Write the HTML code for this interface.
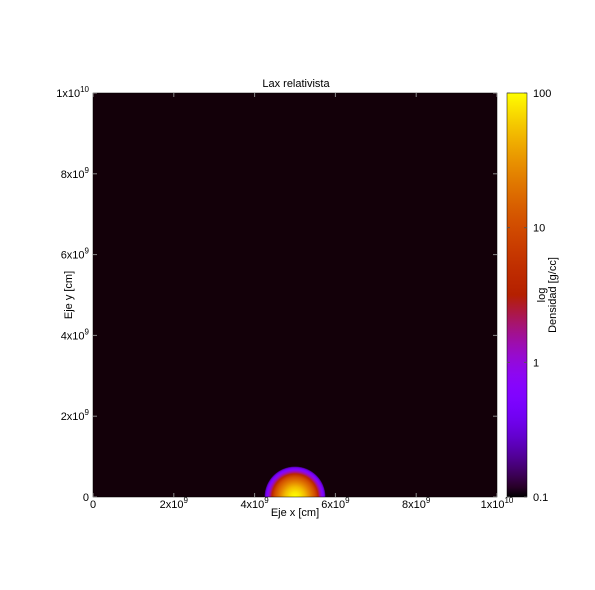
<!DOCTYPE html>
<html><head><meta charset="utf-8"><style>
body{margin:0;background:#fff;}
svg{display:block;font-family:"Liberation Sans",sans-serif;font-size:11px;}
</style></head><body>
<svg id="c" width="595" height="590" viewBox="0 0 595 590"></svg>
<script>
// data
const xTicks=[0,2e9,4e9,6e9,8e9,1e10];
const xTickLabels=["0","2x10^9","4x10^9","6x10^9","8x10^9","1x10^10"];
const yTicks=[0,2e9,4e9,6e9,8e9,1e10];
const yTickLabels=["0","2x10^9","4x10^9","6x10^9","8x10^9","1x10^10"];
const cbTicks=[0.1,1,10,100];
const cbTickLabels=["0.1","1","10","100"];
const blobCenterX=[5e9];
const radialPos=[0,1.2e8,2.5e8,3.7e8,5e8,5.7e8,6.2e8,6.7e8,7.1e8,7.4e8,7.6e8];
const radialDens=[100,80,50,25,10,4,1.5,0.7,0.45,0.25,0.104];
const bgDens=[0.104];

const NS="http://www.w3.org/2000/svg";
const svg=document.getElementById('c');
const L=93,R=497,T=93,B=497;
const sx=v=>L+(v-0)/(1e10)*(R-L);
const sy=v=>B-(v-0)/(1e10)*(B-T);
const lmin=Math.log10(0.1),lmax=Math.log10(100);
const frac=d=>Math.min(1,Math.max(0,(Math.log10(d)-lmin)/(lmax-lmin)));
const cy=d=>B-frac(d)*(B-T);
function pal(f){let r=Math.sqrt(f),g=f*f*f,b=Math.sin(2*Math.PI*f);b=Math.max(0,b);
return `rgb(${Math.round(r*255)},${Math.round(g*255)},${Math.round(b*255)})`;}
function el(t,a,p){const e=document.createElementNS(NS,t);for(const k in a)e.setAttribute(k,a[k]);(p||svg).appendChild(e);return e;}
function txt(x,y,s,anchor,parent){const e=el('text',{x,y,'text-anchor':anchor||'middle',fill:'#000'},parent);
 const m=s.match(/^(.*)\^(.*)$/);
 if(m){e.textContent=m[1];const ts=el('tspan',{dy:-5,'font-size':'8px'},e);ts.textContent=m[2];}else e.textContent=s;return e;}

el('text',{x:296,y:87,'text-anchor':'middle'}).textContent="Lax relativista";
const bg=el('rect',{x:L,y:T,width:R-L,height:B-T,fill:pal(frac(bgDens[0]))});


// blob
const defs=el('defs',{});
const clip=el('clipPath',{id:'pc'},defs);el('rect',{x:L,y:T,width:R-L,height:B-T},clip);
const g=el('g',{'clip-path':'url(#pc)'});


const rmax=radialPos[radialPos.length-1];
const rg=el('radialGradient',{id:'bg1',cx:sx(blobCenterX[0]),cy:B,r:sx(rmax)-sx(0),gradientUnits:'userSpaceOnUse'},defs);
radialPos.forEach((p,i)=>{el('stop',{offset:p/rmax,'stop-color':pal(frac(radialDens[i]))},rg);});
el('circle',{cx:sx(blobCenterX[0]),cy:B,r:sx(rmax)-sx(0),fill:'url(#bg1)'},g);
// axes frame
el('rect',{x:L,y:T,width:R-L,height:B-T,fill:'none',stroke:'#000','stroke-width':0.5});
xTicks.forEach((v,i)=>{const x=sx(v);el('line',{x1:x,x2:x,y1:B,y2:B-4,stroke:'#888'});el('line',{x1:x,x2:x,y1:T,y2:T+4,stroke:'#888'});
 const t=txt(x,508,xTickLabels[i]);});
yTicks.forEach((v,i)=>{const y=sy(v);el('line',{x1:L,x2:L+4,y1:y,y2:y,stroke:'#888'});el('line',{x1:R,x2:R-4,y1:y,y2:y,stroke:'#888'});
 const t=txt(89,y+4,yTickLabels[i],'end');});
el('text',{x:295,y:516,'text-anchor':'middle'}).textContent="Eje x [cm]";
el('text',{x:0,y:0,'text-anchor':'middle',transform:'translate(72,295) rotate(-90)'}).textContent="Eje y [cm]";
// colorbar
const lg=el('linearGradient',{id:'cbg',x1:0,y1:1,x2:0,y2:0},defs);
for(let i=0;i<=40;i++){el('stop',{offset:i/40,'stop-color':pal(i/40)},lg);}
const cb=el('rect',{x:507,y:T,width:20,height:B-T,fill:'url(#cbg)',stroke:'#000','stroke-width':0.5});


cbTicks.forEach((v,i)=>{const y=cy(v);el('line',{x1:507,x2:510,y1:y,y2:y,stroke:'#555'});el('line',{x1:524,x2:527,y1:y,y2:y,stroke:'#555'});
 const t=txt(533,y+4,cbTickLabels[i],'start');});
el('text',{x:0,y:0,'text-anchor':'middle',transform:'translate(545,295) rotate(-90)'}).textContent="log";
el('text',{x:0,y:0,'text-anchor':'middle',transform:'translate(556,295) rotate(-90)'}).textContent="Densidad [g/cc]";
</script>
</body></html>
